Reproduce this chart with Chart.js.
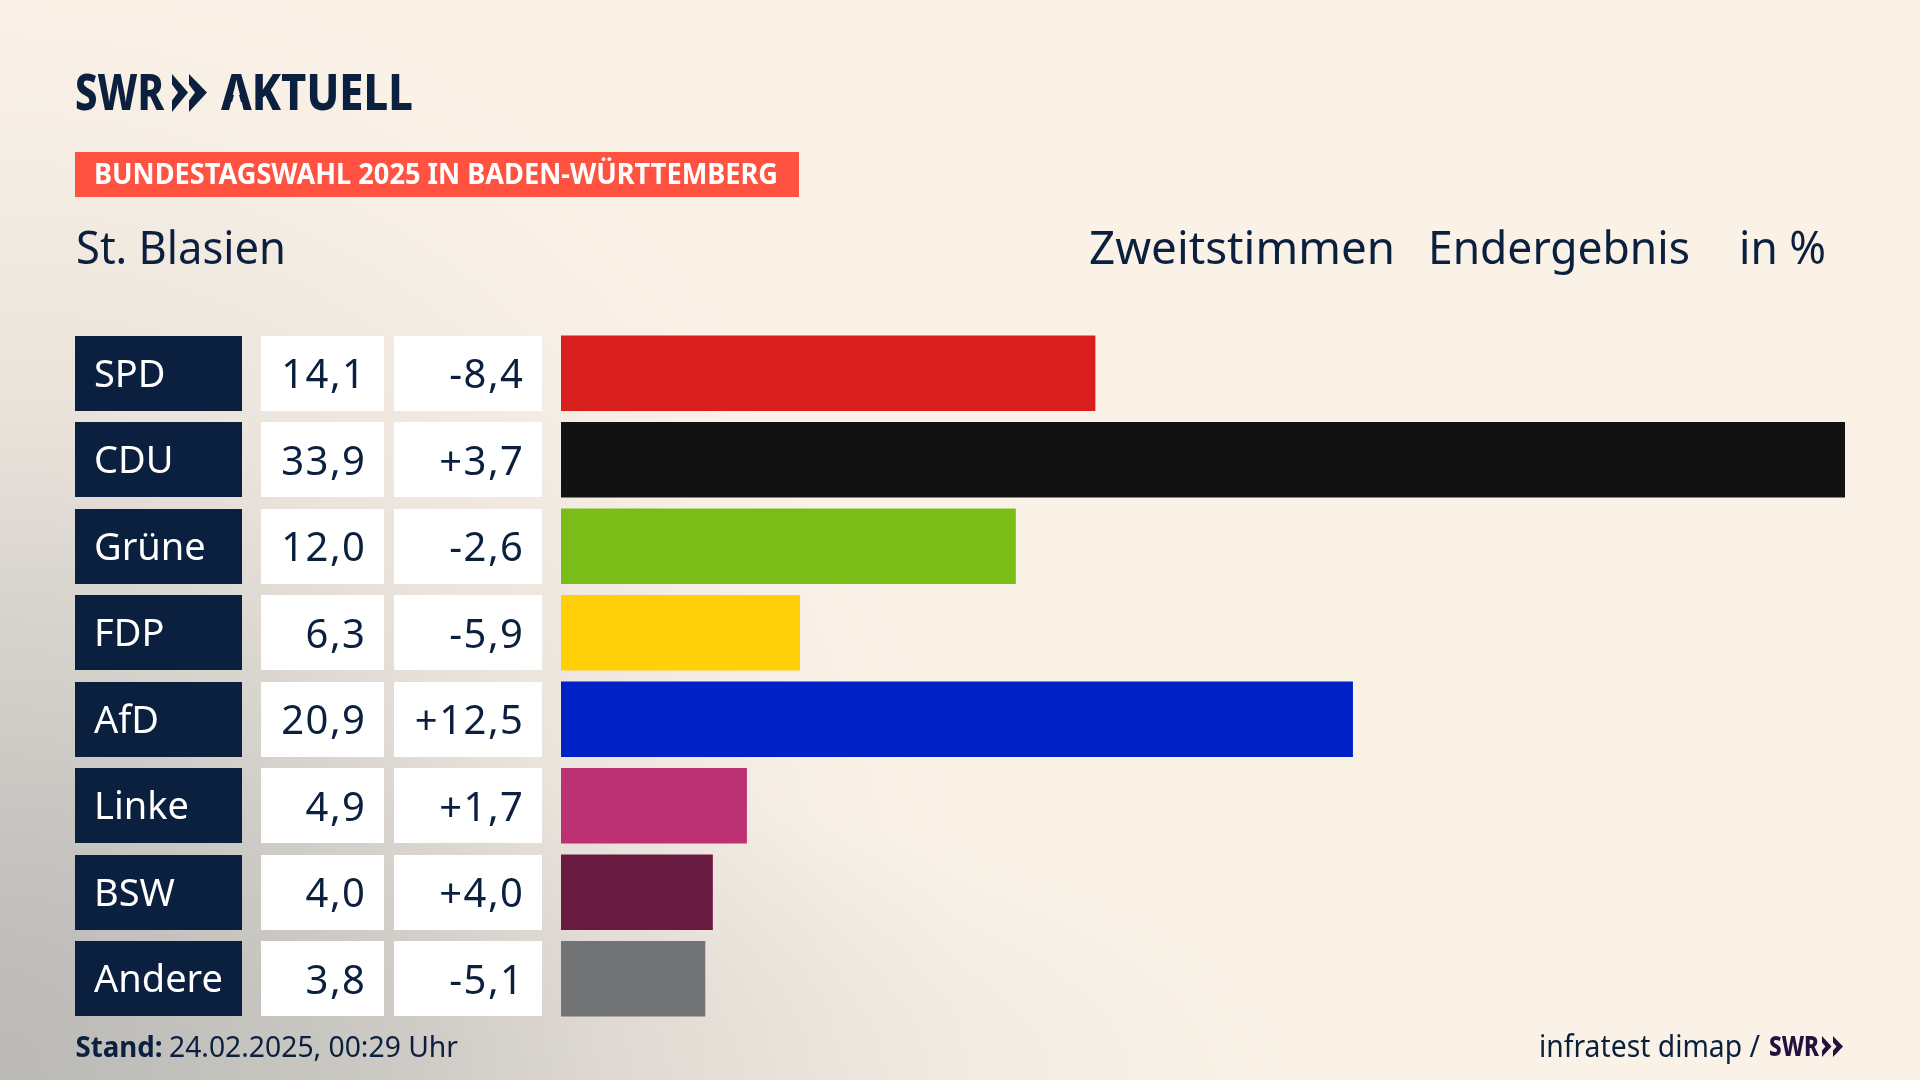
<!DOCTYPE html>
<html lang="de">
<head>
<meta charset="utf-8">
<title>Bundestagswahl 2025 – St. Blasien</title>
<script src="https://cdn.jsdelivr.net/npm/chart.js@4"></script>
<style>
html,body{margin:0;padding:0;width:1920px;height:1080px;overflow:hidden;background:#FAF2E7}
#bg{position:absolute;inset:0;background:
 radial-gradient(ellipse 1280px 340px at 0% 100%, rgba(190,188,184,.55) 0%, rgba(190,188,184,0) 100%),
 radial-gradient(ellipse 1000px 1150px at 0% 100%, #B8B7B5 0%, #D8D4CE 42%, #EBE4DC 60%, #F7EFE5 85%, #FAF2E7 97%),
 #FAF2E7}
canvas{position:absolute;left:0;top:0}
svg{position:absolute;left:0;top:0}
text{font-family:"Noto Sans",sans-serif;fill:#0B1F3E}
</style>
</head>
<body>
<div id="bg"></div>
<canvas id="c" width="1920" height="1080"></canvas>
<svg width="1920" height="1080" xmlns="http://www.w3.org/2000/svg">
  <text x="75" y="110" font-size="49" font-weight="800" textLength="89" lengthAdjust="spacingAndGlyphs">SWR</text>
  <path fill="#0B1F3E" d="M172 74l16 18.500-16 19.500v-11.500l6-8-6-8zM189 74l18 18.500-18 19.500v-11.500l6-8-6-8z"/>
  <text x="221" y="110" font-size="49" font-weight="800" textLength="192" lengthAdjust="spacingAndGlyphs">AKTUELL</text>
  <path fill="#F9F1E7" d="M236.500 86l7 25h-14z"/>

  <rect x="75" y="152" width="724" height="45" fill="#FF5240"/>
  <text x="94" y="184" font-size="28.500" font-weight="700" style="fill:#fff" textLength="684" lengthAdjust="spacingAndGlyphs">BUNDESTAGSWAHL 2025 IN BADEN-WÜRTTEMBERG</text>

  <text x="76" y="264" font-size="46" textLength="210" lengthAdjust="spacingAndGlyphs">St. Blasien</text>
  <text x="1089" y="264" font-size="46" textLength="306" lengthAdjust="spacingAndGlyphs">Zweitstimmen</text>
  <text x="1428" y="264" font-size="46" textLength="262" lengthAdjust="spacingAndGlyphs">Endergebnis</text>
  <text x="1739" y="264" font-size="46" textLength="87" lengthAdjust="spacingAndGlyphs">in %</text>

  <text x="75.500" y="1057" font-size="29" font-weight="700" textLength="87" lengthAdjust="spacingAndGlyphs">Stand:</text>
  <text x="169" y="1057" font-size="29" textLength="289" lengthAdjust="spacingAndGlyphs">24.02.2025, 00:29 Uhr</text>
  <text x="1539" y="1057" font-size="30" textLength="221" lengthAdjust="spacingAndGlyphs">infratest dimap /</text>
  <text x="1769" y="1056" font-size="28" font-weight="800" style="fill:#26103F" textLength="50" lengthAdjust="spacingAndGlyphs">SWR</text>
  <path fill="#26103F" d="M1822 1036l9.500 10.500-9.500 10.500v-6.500l3.500-4-3.500-4zM1833 1036l10 10.500-10 10.500v-6.500l3.500-4-3.500-4z"/>
</svg>
<script>
const parties = ["SPD","CDU","Grüne","FDP","AfD","Linke","BSW","Andere"];
const shares = [14.1,33.9,12.0,6.3,20.9,4.9,4.0,3.8];
const changes = [-8.4,3.7,-2.6,-5.9,12.5,1.7,4.0,-5.1];
const barColors = ["#D81F1E","#121212","#7ABD19","#FFD008","#0021C6","#BC3074","#681A40","#727374"];

const navy = "#0B1F3E";
const rowHeight = 75;
const fmt = v => v.toFixed(1).replace(".", ",");
const fmtChange = v => (v > 0 ? "+" : "-") + fmt(Math.abs(v));

const cellsPlugin = {
  id: "cells",
  beforeDraw(chart) {
    const {ctx, scales: {y}} = chart;
    ctx.save();
    parties.forEach((p, i) => {
      const top = Math.round(y.getPixelForValue(i) - rowHeight / 2);
      ctx.fillStyle = navy;  ctx.fillRect(75, top, 167, rowHeight);
      ctx.fillStyle = "#fff"; ctx.fillRect(261, top, 123, rowHeight);
      ctx.fillRect(394, top, 148, rowHeight);
    });
    ctx.restore();
  },
  afterDraw(chart) {
    const {ctx, scales: {y}} = chart;
    ctx.save();
    ctx.font = '40px "Noto Sans", sans-serif';
    ctx.letterSpacing = "1.5px";
    ctx.fillStyle = navy;
    ctx.textAlign = "right";
    ctx.textBaseline = "alphabetic";
    parties.forEach((p, i) => {
      const base = y.getPixelForValue(i) + 15;
      ctx.fillText(fmt(shares[i]), 366.5, base);
      ctx.fillText(fmtChange(changes[i]), 524.5, base);
    });
    ctx.restore();
  }
};

new Chart(document.getElementById("c"), {
  type: "bar",
  data: {
    labels: parties,
    datasets: [{
      data: shares,
      backgroundColor: barColors,
      borderWidth: 0,
      barThickness: rowHeight
    }]
  },
  options: {
    indexAxis: "y",
    responsive: false,
    animation: false,
    devicePixelRatio: 1,
    layout: {padding: {left: 94, right: 75, top: 330, bottom: 58}},
    plugins: {legend: {display: false}, tooltip: {enabled: false}, title: {display: false}},
    scales: {
      x: {display: false, min: 0, max: 33.9},
      y: {
        afterFit(scale) { scale.width = 467; },
        border: {display: false},
        grid: {display: false, drawTicks: false},
        ticks: {
          color: "#fff",
          crossAlign: "far",
          padding: 0,
          labelOffset: 2.5,
          font: {family: '"Noto Sans", sans-serif', size: 38}
        }
      }
    }
  },
  plugins: [cellsPlugin]
});
</script>
</body>
</html>
